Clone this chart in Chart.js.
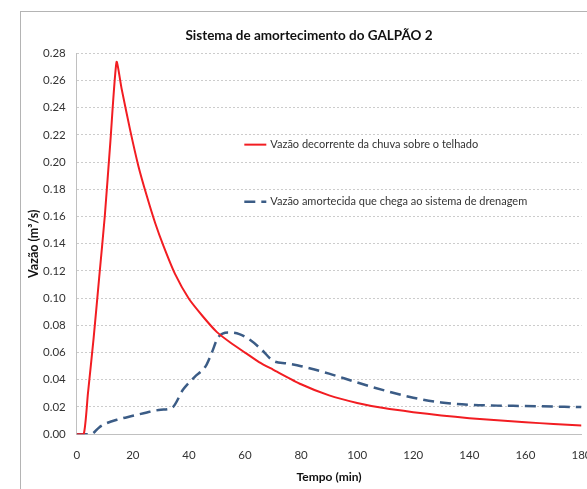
<!DOCTYPE html>
<html>
<head>
<meta charset="utf-8">
<script src="https://cdn.jsdelivr.net/npm/chart.js@4"></script>
<style>
  html, body { margin: 0; padding: 0; background: #fff; overflow: hidden; width: 587px; height: 489px; }
  .frame { position: absolute; left: 20px; top: 11px; width: 700px; height: 600px; border: 1px solid #b4b4b4; }
  #chart { position: absolute; left: 0; top: 0; }
</style>
</head>
<body>
<div class="frame"></div>
<canvas id="chart" width="606" height="489"></canvas>
<script>
const titleText = 'Sistema de amortecimento do GALPÃO 2';
const xTitle = 'Tempo (min)';
const yTitle = 'Vazão (m³/s)';
const seriesNames = ['Vazão decorrente da chuva sobre o telhado', 'Vazão amortecida que chega ao sistema de drenagem'];

// red: rain on roof
const rainTime = [0, 2.5, 4, 6, 8, 10, 12, 14.2, 16, 19, 22, 25, 28, 31, 35, 40, 45, 50, 55, 60, 65, 70, 80, 90, 100, 110, 120, 130, 140, 150, 160, 170, 180];
const rainFlow = [0, 0, 0.03, 0.07, 0.115, 0.16, 0.215, 0.2735, 0.254, 0.224, 0.197, 0.175, 0.155, 0.138, 0.118, 0.0995, 0.0865, 0.075, 0.067, 0.060, 0.053, 0.0475, 0.0367, 0.0285, 0.023, 0.019, 0.0162, 0.0138, 0.0118, 0.0102, 0.0088, 0.0075, 0.0064];

// blue: damped outflow
const damTime = [0, 5, 8, 10, 15, 20, 25, 30, 34, 38, 42, 46, 48, 50.4, 54, 58, 62, 66, 70, 75, 80, 90, 100, 110, 120, 130, 140, 150, 160, 170, 180];
const damFlow = [0, 0, 0.005, 0.0075, 0.011, 0.0135, 0.016, 0.018, 0.0195, 0.033, 0.042, 0.050, 0.059, 0.0711, 0.0748, 0.0735, 0.069, 0.062, 0.054, 0.052, 0.050, 0.0445, 0.038, 0.032, 0.0268, 0.0233, 0.0216, 0.021, 0.0207, 0.0203, 0.0199];

const yTicksMax = 0.28;
const xTicksMax = 180;

const toPts = (xs, ys) => xs.map((x, i) => ({ x: x, y: ys[i] }));

const fontName = "Lato, 'Open Sans', sans-serif";

// legend drawn inside the plot area
const insideLegend = {
    id: 'insideLegend',
    afterDraw(chart) {
        const { ctx, chartArea } = chart;
        const w = chartArea.right - chartArea.left;
        const h = chartArea.bottom - chartArea.top;
        const x0 = chartArea.left + w * 0.332;
        const rows = [0.24, 0.39];
        ctx.save();
        ctx.font = '11px ' + fontName;
        ctx.textBaseline = 'middle';
        ctx.fillStyle = '#333';
        chart.data.datasets.forEach((ds, i) => {
            const y = chartArea.top + h * rows[i];
            ctx.beginPath();
            ctx.strokeStyle = ds.borderColor;
            ctx.lineWidth = ds.borderWidth;
            ctx.setLineDash(ds.borderDash || []);
            ctx.moveTo(x0, y);
            ctx.lineTo(x0 + 22, y);
            ctx.stroke();
            ctx.setLineDash([]);
            ctx.fillText(ds.label, x0 + 26, y);
        });
        ctx.restore();
    }
};

new Chart(document.getElementById('chart'), {
    type: 'line',
    data: {
        datasets: [
            {
                label: seriesNames[0],
                data: toPts(rainTime, rainFlow),
                borderColor: '#f21d22',
                borderWidth: 2,
                pointRadius: 0,
                tension: 0.2,
                fill: false,
            },
            {
                label: seriesNames[1],
                data: toPts(damTime, damFlow),
                borderColor: '#3b5c86',
                borderWidth: 2.5,
                borderDash: [11, 6],
                pointRadius: 0,
                cubicInterpolationMode: 'monotone',
                fill: false,
            },
        ],
    },
    options: {
        responsive: false,
        animation: false,
        devicePixelRatio: 1,
        layout: { padding: { left: 20, right: 8, top: 0, bottom: 0 } },
        plugins: {
            legend: { display: false },
            tooltip: { enabled: false },
            title: {
                display: true,
                text: titleText,
                color: '#111',
                font: { family: fontName, size: 13.5, weight: 'bold' },
                padding: { top: 28, bottom: 9 },
            },
        },
        scales: {
            x: {
                type: 'linear',
                min: 0,
                max: xTicksMax,
                grid: { display: false, drawTicks: false },
                border: { display: true, color: '#c0c0c0', width: 1 },
                ticks: {
                    stepSize: 20,
                    padding: 14.5,
                    color: '#333',
                    font: { family: fontName, size: 11.5, lineHeight: 1.2 },
                    maxRotation: 0,
                },
                title: {
                    display: true,
                    text: xTitle,
                    color: '#111',
                    font: { family: fontName, size: 12, weight: 'bold', lineHeight: 1 },
                    padding: { top: -6, bottom: 6 },
                },
            },
            y: {
                min: 0,
                max: yTicksMax,
                grid: { color: '#cccccc', drawTicks: false },
                border: { display: true, color: '#c0c0c0', width: 1, dash: [2, 2] },
                ticks: {
                    stepSize: 0.02,
                    padding: 11,
                    color: '#333',
                    font: { family: fontName, size: 11.5 },
                    callback: (v) => v.toFixed(2),
                },
                title: {
                    display: true,
                    text: yTitle,
                    color: '#111',
                    font: { family: fontName, size: 12.5, weight: 'bold', lineHeight: 1.2 },
                    padding: { top: 6, bottom: -9 },
                },
            },
        },
    },
    plugins: [insideLegend],
});
</script>
</body>
</html>
